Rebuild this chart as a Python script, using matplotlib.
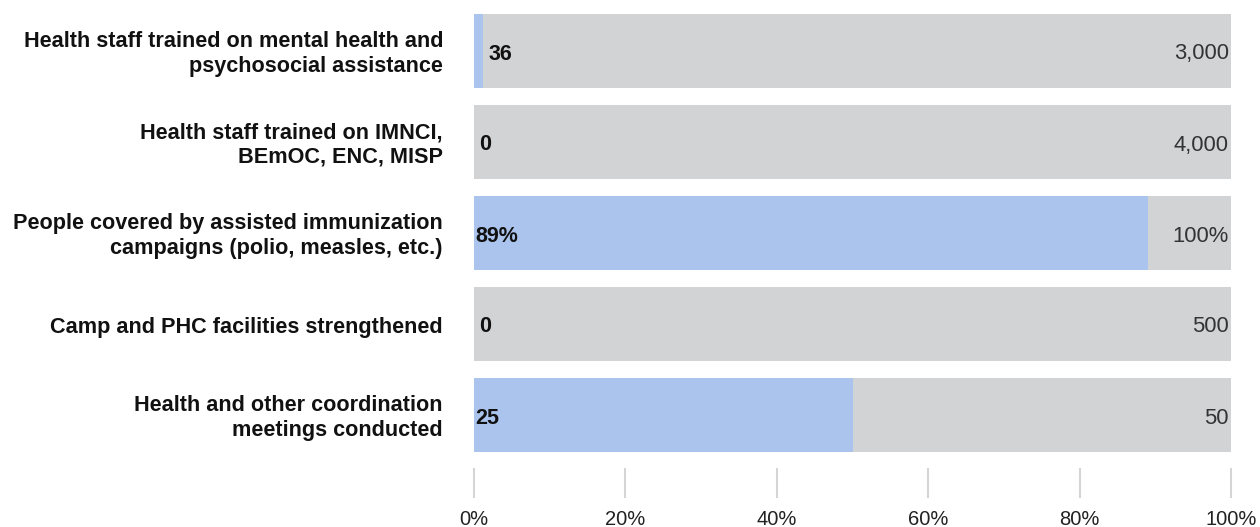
import matplotlib
matplotlib.use("Agg")
import matplotlib.pyplot as plt

# Indicator data
categories = [
    "Health staff trained on mental health and\npsychosocial assistance",
    "Health staff trained on IMNCI,\nBEmOC, ENC, MISP",
    "People covered by assisted immunization\ncampaigns (polio, measles, etc.)",
    "Camp and PHC facilities strengthened",
    "Health and other coordination\nmeetings conducted",
]
achieved = [36, 0, 89, 0, 25]
targets = [3000, 4000, 100, 500, 50]
achieved_labels = ["36", "0", "89%", "0", "25"]
target_labels = ["3,000", "4,000", "100%", "500", "50"]
tick_values = [0, 20, 40, 60, 80, 100]
tick_labels = ["0%", "20%", "40%", "60%", "80%", "100%"]

BLUE = "#aac4ee"
GRAY = "#d2d3d5"

plt.rcParams["font.family"] = ["Liberation Sans", "DejaVu Sans"]

fig = plt.figure(figsize=(12.6, 5.27), dpi=100)
ax = fig.add_axes([474 / 1260, 1 - 460.5 / 527, 757 / 1260, 455 / 527])

pct = [100.0 * a / t for a, t in zip(achieved, targets)]
ypos = list(range(len(categories)))

# Full-target background bars with achieved share on top
ax.barh(ypos, [100] * len(ypos), height=74 / 91, color=GRAY, zorder=1)
ax.barh(ypos, pct, height=74 / 91, color=BLUE, zorder=2)

ax.set_xlim(0, 100)
ax.set_ylim(len(ypos) - 0.5, -0.5)

for y, p, lab, tlab, cat in zip(ypos, pct, achieved_labels, target_labels, categories):
    if p < 5:
        ax.annotate(lab, (p, y), xytext=(5, -3), textcoords="offset pixels",
                    ha="left", va="center", fontsize=15.5, fontweight="bold",
                    color="#111111", zorder=3)
    else:
        ax.annotate(lab, (0, y), xytext=(1, -3), textcoords="offset pixels",
                    ha="left", va="center", fontsize=15.5, fontweight="bold",
                    color="#111111", zorder=3)
    ax.annotate(tlab, (100, y), xytext=(-2, -3), textcoords="offset pixels",
                ha="right", va="center", fontsize=15.8, color="#333333", zorder=3)
    ax.annotate(cat, (0, y), xytext=(-31, -3), textcoords="offset pixels",
                ha="right", va="center", fontsize=15.6, fontweight="bold",
                color="#111111", linespacing=1.2, annotation_clip=False)

ax.set_yticks([])
ax.set_xticks(tick_values)
ax.set_xticklabels(tick_labels)
ax.tick_params(axis="x", direction="out", length=21.6, width=1.5,
               color="#d5d5d5", pad=8.5, labelsize=14.5, labelcolor="#222222")
for s in ax.spines.values():
    s.set_visible(False)
ax.spines["bottom"].set_position(("outward", 5.4))

fig.savefig("out.png", dpi=100)
